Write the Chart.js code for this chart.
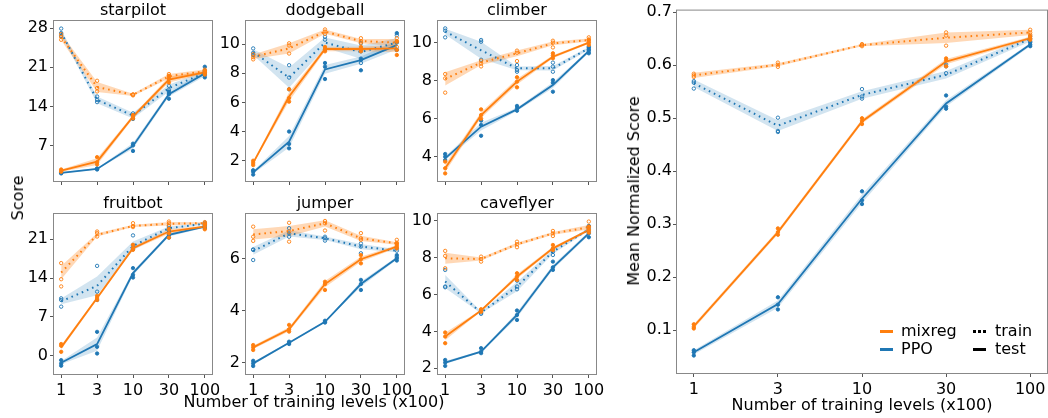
<!DOCTYPE html>
<html>
<head>
<meta charset="utf-8">
<script src="https://cdn.jsdelivr.net/npm/chart.js@4.4.0/dist/chart.umd.min.js"></script>
<style>
body { margin: 0; width: 1048px; height: 418px; overflow: hidden; background: #fff; font-family: 'DejaVu Sans'; }
canvas { position: absolute; }
.lbl { position: absolute; font-size: 16px; line-height: 16px; white-space: nowrap; color: #000; }
.seg { position: absolute; height: 3px; width: 13px; }
.dot { position: absolute; width: 3px; height: 3px; background: #000; }
</style>
</head>
<body>
<canvas id="starpilot"></canvas>
<canvas id="dodgeball"></canvas>
<canvas id="climber"></canvas>
<canvas id="fruitbot"></canvas>
<canvas id="jumper"></canvas>
<canvas id="caveflyer"></canvas>
<canvas id="mean"></canvas>

<div class="lbl" style="left:18px;top:198px;transform:translate(-50%,-50%) rotate(-90deg);">Score</div>
<div class="lbl" style="left:314px;top:394px;transform:translateX(-50%);">Number of training levels (x100)</div>
<div class="lbl" style="left:634px;top:191px;transform:translate(-50%,-50%) rotate(-90deg);">Mean Normalized Score</div>
<div class="lbl" style="left:862px;top:397px;transform:translateX(-50%);">Number of training levels (x100)</div>

<div class="seg" style="left:880px;top:330px;background:#ff7f0e;"></div>
<div class="lbl" style="left:901px;top:323px;">mixreg</div>
<div class="seg" style="left:880px;top:348px;background:#1f77b4;"></div>
<div class="lbl" style="left:901px;top:341px;">PPO</div>
<div class="dot" style="left:973px;top:330px;"></div>
<div class="dot" style="left:978px;top:330px;"></div>
<div class="dot" style="left:983px;top:330px;"></div>
<div class="lbl" style="left:995px;top:323px;">train</div>
<div class="seg" style="left:973px;top:348px;background:#000;"></div>
<div class="lbl" style="left:995px;top:341px;">test</div>

<script>
const levels = ['1', '3', '10', '30', '100'];

// starpilot
const starpilot_mixreg_train = [26.4, 17.5, 16.1, 19.4, 20.3];
const starpilot_mixreg_train_ci = [0.6, 0.9, 0.2, 0.4, 0.3];
const starpilot_mixreg_train_seeds = [[25.9, 26.4, 26.9], [16.7, 17.3, 18.6], [16.0, 16.1, 16.2], [19.0, 19.3, 19.8], [20.0, 20.3, 20.6]];
const starpilot_ppo_train = [27.2, 15.2, 12.4, 17.3, 20.0];
const starpilot_ppo_train_ci = [0.5, 0.6, 0.5, 0.6, 0.4];
const starpilot_ppo_train_seeds = [[26.6, 27.1, 27.9], [14.8, 15.2, 15.8], [11.8, 12.5, 12.8], [16.4, 17.0, 17.7], [19.6, 20.1, 20.4]];
const starpilot_mixreg_test = [2.6, 4.2, 12.2, 18.8, 20.1];
const starpilot_mixreg_test_ci = [0.2, 0.6, 0.3, 0.5, 0.3];
const starpilot_mixreg_test_seeds = [[2.4, 2.6, 2.8], [3.7, 4.1, 5.0], [11.9, 12.2, 12.5], [18.3, 18.9, 19.5], [19.7, 20.1, 20.4]];
const starpilot_ppo_test = [2.2, 2.9, 7.0, 16.2, 19.9];
const starpilot_ppo_test_ci = [0.1, 0.1, 0.5, 0.4, 0.5];
const starpilot_ppo_test_seeds = [[2.1, 2.2, 2.3], [2.8, 2.9, 3.0], [6.1, 7.1, 7.4], [15.4, 16.2, 16.7], [19.2, 19.8, 21.1]];

// dodgeball
const dodgeball_mixreg_train = [9.13, 9.7, 10.85, 10.2, 10.1];
const dodgeball_mixreg_train_ci = [0.15, 0.35, 0.15, 0.15, 0.25];
const dodgeball_mixreg_train_seeds = [[8.95, 9.1, 9.3], [9.35, 9.9, 10.05], [10.7, 10.85, 11.0], [10.1, 10.2, 10.4], [9.8, 10.15, 10.4]];
const dodgeball_ppo_train = [9.45, 7.7, 10.1, 9.45, 10.1];
const dodgeball_ppo_train_ci = [0.2, 0.7, 0.35, 0.45, 0.3];
const dodgeball_ppo_train_seeds = [[9.25, 9.4, 9.7], [6.9, 7.7, 8.55], [9.6, 10.3, 10.5], [8.7, 9.5, 10.05], [9.6, 10.1, 10.6]];
const dodgeball_mixreg_test = [1.85, 6.4, 9.66, 9.66, 9.7];
const dodgeball_mixreg_test_ci = [0.1, 0.3, 0.15, 0.15, 0.25];
const dodgeball_mixreg_test_seeds = [[1.7, 1.85, 2.0], [6.05, 6.3, 6.9], [9.5, 9.65, 9.8], [9.5, 9.65, 9.8], [9.25, 9.6, 10.2]];
const dodgeball_ppo_test = [1.2, 3.3, 8.26, 8.9, 9.93];
const dodgeball_ppo_test_ci = [0.1, 0.4, 0.3, 0.25, 0.3];
const dodgeball_ppo_test_seeds = [[1.05, 1.25, 1.35], [2.85, 3.15, 4.0], [7.6, 8.45, 8.7], [8.2, 8.9, 9.0], [9.6, 10.15, 10.75]];

// climber
const climber_mixreg_train = [8.09, 8.95, 9.44, 9.96, 10.14];
const climber_mixreg_train_ci = [0.35, 0.12, 0.15, 0.1, 0.08];
const climber_mixreg_train_seeds = [[7.37, 8.12, 8.35], [8.75, 8.9, 9.05], [9.03, 9.47, 9.58], [9.75, 10.0, 10.1], [10.05, 10.17, 10.28]];
const climber_ppo_train = [10.58, 9.6, 8.65, 8.65, 9.7];
const climber_ppo_train_ci = [0.15, 0.45, 0.1, 0.12, 0.07];
const climber_ppo_train_seeds = [[10.28, 10.63, 10.75], [9.1, 10.05, 10.14], [8.47, 8.56, 8.82], [8.47, 8.74, 8.95], [9.53, 9.65, 9.79]];
const climber_mixreg_test = [3.39, 6.19, 7.95, 9.26, 10.0];
const climber_mixreg_test_ci = [0.2, 0.15, 0.15, 0.08, 0.06];
const climber_mixreg_test_seeds = [[3.12, 3.39, 3.74], [6.0, 6.19, 6.49], [7.65, 7.95, 8.18], [9.18, 9.32, 9.44], [9.88, 10.0, 10.14]];
const climber_ppo_test = [3.91, 5.58, 6.49, 7.77, 9.56];
const climber_ppo_test_ci = [0.1, 0.2, 0.08, 0.15, 0.07];
const climber_ppo_test_seeds = [[3.82, 4.0, 4.14], [5.1, 5.67, 5.9], [6.42, 6.54, 6.67], [7.42, 7.89, 8.03], [9.44, 9.61, 9.74]];

// fruitbot
const fruitbot_mixreg_train = [15.0, 21.8, 23.4, 23.8, 23.9];
const fruitbot_mixreg_train_ci = [1.2, 0.3, 0.2, 0.3, 0.15];
const fruitbot_mixreg_train_seeds = [[12.5, 13.8, 16.7], [21.5, 22.1, 22.4], [23.2, 23.4, 23.9], [23.4, 23.9, 24.2], [23.7, 23.9, 24.1]];
const fruitbot_ppo_train = [9.8, 12.6, 19.8, 23.0, 23.8];
const fruitbot_ppo_train_ci = [0.5, 1.7, 0.8, 0.3, 0.15];
const fruitbot_ppo_train_seeds = [[8.85, 10.05, 10.35], [10.05, 11.55, 16.2], [19.2, 19.9, 21.7], [22.7, 23.0, 23.4], [23.5, 23.8, 24.0]];
const fruitbot_mixreg_test = [1.5, 10.4, 19.4, 22.4, 23.3];
const fruitbot_mixreg_test_ci = [0.4, 0.3, 0.3, 0.4, 0.2];
const fruitbot_mixreg_test_seeds = [[0.7, 1.8, 2.1], [10.05, 10.4, 10.8], [19.1, 19.4, 20.0], [21.3, 22.1, 22.8], [22.8, 23.3, 23.7]];
const fruitbot_ppo_test = [-1.26, 2.1, 14.9, 21.8, 23.3];
const fruitbot_ppo_test_ci = [0.3, 1.2, 0.4, 0.3, 0.2];
const fruitbot_ppo_test_seeds = [[-1.8, -1.4, -0.8], [0.4, 1.6, 4.3], [14.1, 14.6, 15.8], [21.3, 21.8, 22.2], [23.0, 23.3, 23.6]];

// jumper
const jumper_mixreg_train = [6.95, 7.08, 7.38, 6.8, 6.6];
const jumper_mixreg_train_ci = [0.2, 0.2, 0.12, 0.1, 0.05];
const jumper_mixreg_train_seeds = [[6.7, 6.86, 7.25], [6.67, 7.06, 7.4], [7.1, 7.38, 7.47], [6.74, 6.8, 7.0], [6.54, 6.63, 6.74]];
const jumper_ppo_train = [6.31, 6.99, 6.8, 6.48, 6.32];
const jumper_ppo_train_ci = [0.15, 0.12, 0.07, 0.1, 0.06];
const jumper_ppo_train_seeds = [[5.96, 6.35, 6.37], [6.86, 6.99, 7.19], [6.71, 6.8, 6.86], [6.22, 6.48, 6.6], [6.09, 6.32, 6.41]];
const jumper_mixreg_test = [2.58, 3.28, 5.03, 5.99, 6.48];
const jumper_mixreg_test_ci = [0.06, 0.08, 0.12, 0.1, 0.06];
const jumper_mixreg_test_seeds = [[2.48, 2.58, 2.67], [3.19, 3.28, 3.45], [4.8, 5.03, 5.12], [5.83, 5.99, 6.15], [6.41, 6.48, 6.6]];
const jumper_ppo_test = [1.96, 2.76, 3.57, 5.03, 6.03];
const jumper_ppo_test_ci = [0.05, 0.03, 0.02, 0.1, 0.06];
const jumper_ppo_test_seeds = [[1.86, 1.96, 2.06], [2.71, 2.76, 2.8], [3.54, 3.57, 3.61], [4.8, 5.03, 5.19], [5.94, 6.03, 6.15]];

// caveflyer
const caveflyer_mixreg_train = [7.96, 7.92, 8.72, 9.31, 9.64];
const caveflyer_mixreg_train_ci = [0.3, 0.08, 0.08, 0.08, 0.12];
const caveflyer_mixreg_train_seeds = [[7.42, 8.09, 8.36], [7.78, 7.92, 8.05], [8.56, 8.72, 8.86], [9.17, 9.31, 9.44], [9.49, 9.64, 9.95]];
const caveflyer_ppo_train = [6.7, 5.02, 6.43, 8.32, 9.53];
const caveflyer_ppo_train_ci = [0.35, 0.05, 0.25, 0.12, 0.08];
const caveflyer_ppo_train_seeds = [[6.39, 6.43, 7.33], [4.95, 5.02, 5.13], [6.28, 6.43, 6.75], [8.14, 8.32, 8.45], [9.4, 9.53, 9.68]];
const caveflyer_mixreg_test = [3.72, 5.13, 6.97, 8.5, 9.49];
const caveflyer_mixreg_test_ci = [0.2, 0.04, 0.12, 0.08, 0.06];
const caveflyer_mixreg_test_seeds = [[3.36, 3.72, 3.94], [5.06, 5.13, 5.2], [6.79, 6.97, 7.15], [8.41, 8.5, 8.68], [9.35, 9.49, 9.68]];
const caveflyer_ppo_test = [2.31, 2.9, 4.89, 7.47, 9.31];
const caveflyer_ppo_test_ci = [0.08, 0.05, 0.15, 0.12, 0.1];
const caveflyer_ppo_test_seeds = [[2.13, 2.31, 2.45], [2.82, 2.9, 3.09], [4.62, 4.89, 5.13], [7.33, 7.47, 7.78], [9.1, 9.31, 9.71]];

// mean normalized score
const mean_mixreg_train = [0.581, 0.601, 0.638, 0.652, 0.662];
const mean_mixreg_train_ci = [0.005, 0.003, 0.002, 0.01, 0.005];
const mean_mixreg_train_seeds = [[0.578, 0.581, 0.584], [0.597, 0.601, 0.605], [0.636, 0.638, 0.640], [0.637, 0.656, 0.662], [0.658, 0.662, 0.667]];
const mean_ppo_train = [0.566, 0.486, 0.544, 0.582, 0.650];
const mean_ppo_train_ci = [0.007, 0.01, 0.007, 0.007, 0.005];
const mean_ppo_train_seeds = [[0.556, 0.567, 0.570], [0.474, 0.476, 0.501], [0.537, 0.541, 0.555], [0.585, 0.598, 0.601], [0.645, 0.650, 0.655]];
const mean_mixreg_test = [0.107, 0.285, 0.494, 0.607, 0.651];
const mean_mixreg_test_ci = [0.004, 0.004, 0.004, 0.005, 0.003];
const mean_mixreg_test_seeds = [[0.103, 0.106, 0.111], [0.280, 0.285, 0.292], [0.489, 0.495, 0.500], [0.598, 0.609, 0.613], [0.648, 0.651, 0.655]];
const mean_ppo_test = [0.058, 0.149, 0.348, 0.528, 0.639];
const mean_ppo_test_ci = [0.004, 0.007, 0.008, 0.006, 0.003];
const mean_ppo_test_seeds = [[0.052, 0.058, 0.062], [0.139, 0.148, 0.162], [0.338, 0.345, 0.362], [0.518, 0.522, 0.543], [0.636, 0.639, 0.643]];

// y ticks per panel
const starpilot_ticks = [7, 14, 21, 28];
const dodgeball_ticks = [2, 4, 6, 8, 10];
const climber_ticks = [4, 6, 8, 10];
const fruitbot_ticks = [0, 7, 14, 21];
const jumper_ticks = [2, 4, 6];
const caveflyer_ticks = [2, 4, 6, 8, 10];
const mean_ticks = [0.1, 0.2, 0.3, 0.4, 0.5, 0.6, 0.7];

const ORANGE = '#ff7f0e';
const BLUE = '#1f77b4';
const ORANGE_BAND = 'rgba(255,127,14,0.3)';
const BLUE_BAND = 'rgba(31,119,180,0.2)';

Chart.defaults.font.family = 'DejaVu Sans';
Chart.defaults.font.size = 16;
Chart.defaults.color = '#000';

const framePlugin = {
  id: 'frame',
  afterDatasetsDraw(chart) {
    const a = chart.chartArea, ctx = chart.ctx;
    ctx.save();
    ctx.strokeStyle = '#888';
    ctx.lineWidth = 1;
    ctx.strokeRect(a.left - 0.5, a.top - 0.5, a.right - a.left + 1, a.bottom - a.top + 1);
    ctx.restore();
  }
};

function pts(arr) {
  return arr.map((v, i) => ({ x: i, y: v }));
}

function seriesSets(color, band, mean, ci, seeds, train) {
  const seedPts = [];
  seeds.forEach((s, i) => s.forEach(v => seedPts.push({ x: i, y: v })));
  return {
    band: [
      { data: mean.map((v, i) => ({ x: i, y: v - ci[i] })), borderWidth: 0, borderColor: 'rgba(0,0,0,0)', pointRadius: 0, fill: false, order: 3 },
      { data: mean.map((v, i) => ({ x: i, y: v + ci[i] })), borderWidth: 0, borderColor: 'rgba(0,0,0,0)', pointRadius: 0, fill: '-1', backgroundColor: band, order: 3 }
    ],
    line: {
      data: pts(mean), borderColor: color, borderWidth: train ? 2 : 1.8,
      borderDash: train ? [1.6, 4] : [], pointRadius: 0, fill: false, order: 2
    },
    dots: {
      data: seedPts, showLine: false, pointRadius: 1.7, pointBorderWidth: 0.9,
      pointBorderColor: color, pointBackgroundColor: train ? 'rgba(255,255,255,0)' : color, order: 1
    }
  };
}

function makePanel(id, box, title, yMin, yMax, yTicks, showX, fmt, s) {
  const left = 50, right = box.right || 25, top = title ? 20 : box.padTop, bottom = 30;
  const cv = document.getElementById(id);
  cv.width = left + box.w + right;
  cv.height = top + box.h + bottom;
  cv.style.left = (box.x - left) + 'px';
  cv.style.top = (box.y - top) + 'px';

  const series = [
    seriesSets(ORANGE, ORANGE_BAND, s[0], s[1], s[2], true),
    seriesSets(ORANGE, ORANGE_BAND, s[6], s[7], s[8], false),
    seriesSets(BLUE, BLUE_BAND, s[3], s[4], s[5], true),
    seriesSets(BLUE, BLUE_BAND, s[9], s[10], s[11], false)
  ];
  const datasets = [];
  series.forEach(q => { datasets.push(q.dots); });
  series.forEach(q => { datasets.push(q.line); });
  series.forEach(q => { datasets.push(q.band[0], q.band[1]); });

  new Chart(cv, {
    type: 'line',
    data: { datasets: datasets },
    options: {
      responsive: false,
      animation: false,
      devicePixelRatio: 1,
      layout: { padding: { left: 0, right: right, top: title ? 0 : box.padTop, bottom: 0 } },
      elements: { line: { tension: 0 } },
      plugins: {
        legend: { display: false },
        tooltip: { enabled: false },
        title: {
          display: !!title, text: title, fullSize: false,
          font: { size: 16, weight: 'normal' }, color: '#000',
          padding: { top: 0, bottom: 0.8 }
        }
      },
      scales: {
        x: {
          type: 'linear', min: -0.2, max: 4.2, bounds: 'data',
          afterBuildTicks: sc => { sc.ticks = levels.map((l, i) => ({ value: i })); },
          afterFit: sc => { sc.height = bottom; },
          grid: { drawOnChartArea: false, drawTicks: true, tickLength: 4, color: '#555' },
          border: { display: false },
          ticks: { display: showX, autoSkip: false, maxRotation: 0, padding: 3, callback: v => levels[v] }
        },
        y: {
          type: 'linear', min: yMin, max: yMax, bounds: 'data',
          afterBuildTicks: sc => { sc.ticks = yTicks.map(v => ({ value: v })); },
          afterFit: sc => { sc.width = left; },
          grid: { drawOnChartArea: false, drawTicks: true, tickLength: 4, color: '#555' },
          border: { display: false },
          ticks: { autoSkip: false, padding: box.yPad, callback: fmt }
        }
      }
    },
    plugins: [framePlugin]
  });
}

const intFmt = v => String(v);
const decFmt = v => v.toFixed(1);

makePanel('starpilot', { x: 54, y: 21, w: 158, h: 160, yPad: 2 }, 'starpilot', 0.75, 29.25, starpilot_ticks, false, intFmt,
  [starpilot_mixreg_train, starpilot_mixreg_train_ci, starpilot_mixreg_train_seeds,
   starpilot_ppo_train, starpilot_ppo_train_ci, starpilot_ppo_train_seeds,
   starpilot_mixreg_test, starpilot_mixreg_test_ci, starpilot_mixreg_test_seeds,
   starpilot_ppo_test, starpilot_ppo_test_ci, starpilot_ppo_test_seeds]);

makePanel('dodgeball', { x: 246, y: 21, w: 158, h: 160, yPad: 2 }, 'dodgeball', 0.61, 11.58, dodgeball_ticks, false, intFmt,
  [dodgeball_mixreg_train, dodgeball_mixreg_train_ci, dodgeball_mixreg_train_seeds,
   dodgeball_ppo_train, dodgeball_ppo_train_ci, dodgeball_ppo_train_seeds,
   dodgeball_mixreg_test, dodgeball_mixreg_test_ci, dodgeball_mixreg_test_seeds,
   dodgeball_ppo_test, dodgeball_ppo_test_ci, dodgeball_ppo_test_seeds]);

makePanel('climber', { x: 438, y: 21, w: 158, h: 160, yPad: 2 }, 'climber', 2.72, 11.14, climber_ticks, false, intFmt,
  [climber_mixreg_train, climber_mixreg_train_ci, climber_mixreg_train_seeds,
   climber_ppo_train, climber_ppo_train_ci, climber_ppo_train_seeds,
   climber_mixreg_test, climber_mixreg_test_ci, climber_mixreg_test_seeds,
   climber_ppo_test, climber_ppo_test_ci, climber_ppo_test_seeds]);

makePanel('fruitbot', { x: 54, y: 214, w: 158, h: 160, yPad: 2 }, 'fruitbot', -3.3, 25.56, fruitbot_ticks, true, intFmt,
  [fruitbot_mixreg_train, fruitbot_mixreg_train_ci, fruitbot_mixreg_train_seeds,
   fruitbot_ppo_train, fruitbot_ppo_train_ci, fruitbot_ppo_train_seeds,
   fruitbot_mixreg_test, fruitbot_mixreg_test_ci, fruitbot_mixreg_test_seeds,
   fruitbot_ppo_test, fruitbot_ppo_test_ci, fruitbot_ppo_test_seeds]);

makePanel('jumper', { x: 246, y: 214, w: 158, h: 160, yPad: 2 }, 'jumper', 1.55, 7.74, jumper_ticks, true, intFmt,
  [jumper_mixreg_train, jumper_mixreg_train_ci, jumper_mixreg_train_seeds,
   jumper_ppo_train, jumper_ppo_train_ci, jumper_ppo_train_seeds,
   jumper_mixreg_test, jumper_mixreg_test_ci, jumper_mixreg_test_seeds,
   jumper_ppo_test, jumper_ppo_test_ci, jumper_ppo_test_seeds]);

makePanel('caveflyer', { x: 438, y: 214, w: 158, h: 160, yPad: 2 }, 'caveflyer', 1.69, 10.36, caveflyer_ticks, true, intFmt,
  [caveflyer_mixreg_train, caveflyer_mixreg_train_ci, caveflyer_mixreg_train_seeds,
   caveflyer_ppo_train, caveflyer_ppo_train_ci, caveflyer_ppo_train_seeds,
   caveflyer_mixreg_test, caveflyer_mixreg_test_ci, caveflyer_mixreg_test_seeds,
   caveflyer_ppo_test, caveflyer_ppo_test_ci, caveflyer_ppo_test_seeds]);

makePanel('mean', { x: 677, y: 10, w: 370, h: 363, yPad: 1, padTop: 10, right: 20 }, null, 0.019, 0.7032, mean_ticks, true, decFmt,
  [mean_mixreg_train, mean_mixreg_train_ci, mean_mixreg_train_seeds,
   mean_ppo_train, mean_ppo_train_ci, mean_ppo_train_seeds,
   mean_mixreg_test, mean_mixreg_test_ci, mean_mixreg_test_seeds,
   mean_ppo_test, mean_ppo_test_ci, mean_ppo_test_seeds]);
</script>
</body>
</html>
